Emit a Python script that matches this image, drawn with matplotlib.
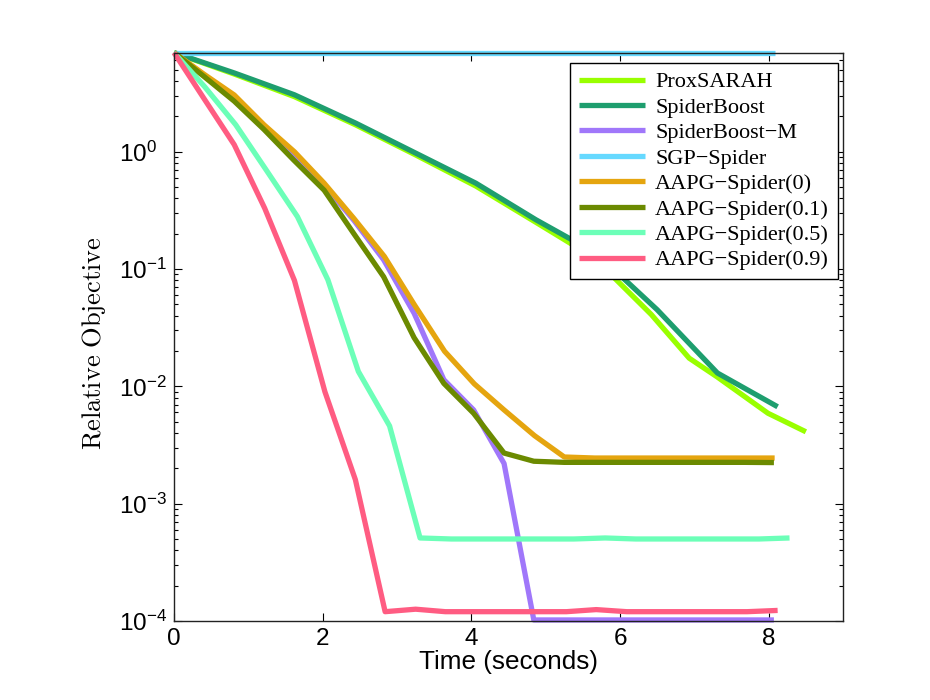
import numpy as np
import matplotlib
matplotlib.use('Agg')
import matplotlib.pyplot as plt
from matplotlib.ticker import LogLocator, NullFormatter

plt.rcParams['font.family'] = ['Liberation Sans', 'DejaVu Sans']
plt.rcParams['mathtext.fontset'] = 'cm'

# time (seconds) and relative objective
t_prox = [0, 0.81, 1.62, 2.44, 3.25, 4.06, 4.87, 5.65, 6.42, 6.93, 7.31, 7.99, 8.50]
y_prox = [7.0, 4.6, 2.95, 1.7, 0.94, 0.51, 0.25, 0.125, 0.041, 0.0174, 0.012, 0.0059, 0.0041]

t_sb = [0, 0.81, 1.62, 2.44, 3.25, 4.06, 4.87, 5.69, 6.50, 7.31, 8.12]
y_sb = [7.0, 4.7, 3.06, 1.76, 0.975, 0.54, 0.263, 0.135, 0.045, 0.013, 0.0067]

t_sbm = [0, 0.40, 0.81, 1.21, 1.61, 2.02, 2.42, 2.82, 3.23, 3.63, 4.03,
         4.44, 4.84, 5.25, 5.65, 6.05, 6.46, 6.86, 7.26, 7.67, 8.07]
y_sbm = [7.0, 4.5, 2.9, 1.65, 0.95, 0.52, 0.26, 0.12, 0.042, 0.0114, 0.0063,
         0.0022, 1.02e-4, 1.02e-4, 1.02e-4, 1.02e-4, 1.02e-4, 1.02e-4, 1.02e-4, 1.02e-4, 1.02e-4]

t_sgp = [0, 8.08]
y_sgp = [7.0, 7.0]

t_a0 = [0, 0.40, 0.81, 1.21, 1.62, 2.02, 2.42, 2.83, 3.23, 3.64, 4.04,
        4.44, 4.85, 5.25, 5.66, 6.06, 6.46, 6.87, 7.27, 7.68, 8.08]
y_a0 = [7.0, 4.6, 3.05, 1.7, 1.0, 0.54, 0.27, 0.128, 0.05, 0.0199, 0.0105,
        0.0063, 0.0038, 0.0025, 0.00245, 0.00245, 0.00245, 0.00245, 0.00245, 0.00245, 0.00245]

t_a01 = [0, 0.40, 0.81, 1.21, 1.61, 2.02, 2.42, 2.82, 3.23, 3.63, 4.03,
         4.44, 4.84, 5.25, 5.65, 6.05, 6.46, 6.86, 7.26, 7.67, 8.07]
y_a01 = [7.0, 4.4, 2.7, 1.55, 0.85, 0.47, 0.2, 0.086, 0.026, 0.0106, 0.0059,
         0.0027, 0.0023, 0.00225, 0.00225, 0.00225, 0.00225, 0.00225, 0.00225, 0.00225, 0.00224]

t_a05 = [0, 0.41, 0.83, 1.24, 1.66, 2.07, 2.48, 2.90, 3.31, 3.73, 4.14,
         4.55, 4.97, 5.38, 5.80, 6.21, 6.62, 7.04, 7.45, 7.87, 8.28]
y_a05 = [7.0, 3.6, 1.7, 0.7, 0.28, 0.081, 0.0134, 0.0046, 5.1e-4, 5.0e-4, 5.0e-4,
         5.0e-4, 5.0e-4, 5.0e-4, 5.1e-4, 5.0e-4, 5.0e-4, 5.0e-4, 5.0e-4, 5.0e-4, 5.1e-4]

t_a09 = [0, 0.41, 0.81, 1.22, 1.62, 2.03, 2.44, 2.84, 3.25, 3.65, 4.06,
         4.47, 4.87, 5.28, 5.68, 6.09, 6.50, 6.90, 7.31, 7.71, 8.12]
y_a09 = [7.0, 2.8, 1.15, 0.33, 0.08, 0.009, 0.0016, 1.2e-4, 1.26e-4, 1.2e-4, 1.2e-4,
         1.2e-4, 1.2e-4, 1.2e-4, 1.25e-4, 1.2e-4, 1.2e-4, 1.2e-4, 1.2e-4, 1.2e-4, 1.23e-4]

labels = ['ProxSARAH', 'SpiderBoost', 'SpiderBoost\u2212M', 'SGP\u2212Spider',
          'AAPG\u2212Spider(0)', 'AAPG\u2212Spider(0.1)', 'AAPG\u2212Spider(0.5)', 'AAPG\u2212Spider(0.9)']
colors = ['#99FF00', '#1E9E6E', '#A077FA', '#66D9FF',
          '#E5A50F', '#6B8A00', '#6CFFB8', '#FF5C82']
series = [(t_prox, y_prox), (t_sb, y_sb), (t_sbm, y_sbm), (t_sgp, y_sgp),
          (t_a0, y_a0), (t_a01, y_a01), (t_a05, y_a05), (t_a09, y_a09)]

fig = plt.figure(figsize=(9.3, 7), dpi=100)
ax = fig.add_axes([0.1871, 0.1129, 0.7194, 0.8119])

for (t, y), lab, c in zip(series, labels, colors):
    ax.plot(t, y, color=c, lw=3.8, label=lab, clip_on=False,
            solid_joinstyle='round', solid_capstyle='butt')

ax.set_yscale('log')
ax.set_xlim(0, 9)
ax.set_ylim(1e-4, 7.0)
ax.set_xticks([0, 2, 4, 6, 8])
ax.yaxis.set_major_locator(LogLocator(base=10, numticks=20))
ax.yaxis.set_minor_locator(LogLocator(base=10, subs=np.arange(2, 10), numticks=20))
ax.yaxis.set_minor_formatter(NullFormatter())

ax.tick_params(which='both', direction='in', top=True, right=True, width=0.8)
ax.tick_params(which='major', length=6, labelsize=17.5)
ax.tick_params(axis='x', which='major', pad=5)
# matlab lines up the "10" of each log label on the left
ax.tick_params(axis='y', which='major', pad=39.5)
plt.setp(ax.get_yticklabels(), ha='left')
ax.tick_params(which='minor', length=3)
for s in ax.spines.values():
    s.set_linewidth(1.0)
    s.set_color('#222222')

ax.set_xlabel('Time (seconds)', fontsize=18.8, labelpad=0)
ax.set_ylabel(r'$\mathrm{Relative\ Objective}$', fontsize=19)
ax.yaxis.set_label_coords(-0.099, 0.489)

leg = ax.legend(loc='upper right', bbox_to_anchor=(0.9925, 0.982), borderaxespad=0,
                prop={'family': 'Liberation Serif', 'size': 16},
                handlelength=3.0, handletextpad=0.45, labelspacing=0.22,
                borderpad=0.4, fancybox=False, framealpha=1, edgecolor='black')
leg.get_frame().set_linewidth(1.0)

fig.savefig('out.png', dpi=100)
